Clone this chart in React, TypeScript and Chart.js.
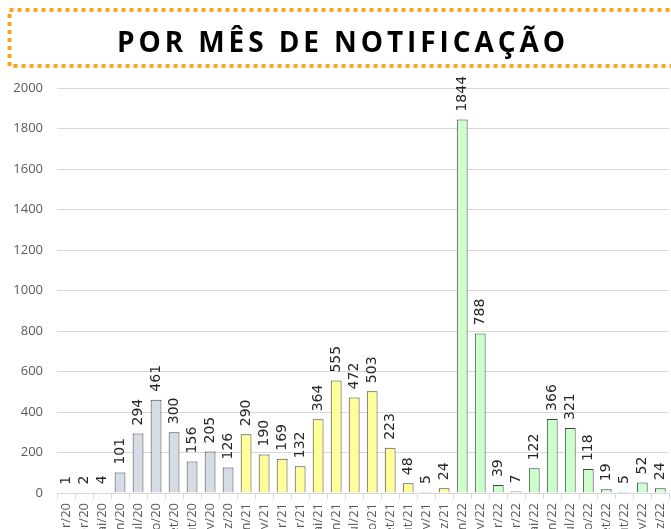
import React, { useEffect, useRef } from "react";
import { Chart, registerables } from "chart.js";

Chart.register(...registerables);

const titleText = "POR MÊS DE NOTIFICAÇÃO";

const months2020 = ["mar/20", "abr/20", "mai/20", "jun/20", "jul/20", "ago/20", "set/20", "out/20", "nov/20", "dez/20"];
const months2021 = ["jan/21", "fev/21", "mar/21", "abr/21", "mai/21", "jun/21", "jul/21", "ago/21", "set/21", "out/21", "nov/21", "dez/21"];
const months2022 = ["jan/22", "fev/22", "mar/22", "abr/22", "mai/22", "jun/22", "jul/22", "ago/22", "set/22", "out/22", "nov/22", "dez/22"];

const values2020 = [1, 2, 4, 101, 294, 461, 300, 156, 205, 126];
const values2021 = [290, 190, 169, 132, 364, 555, 472, 503, 223, 48, 5, 24];
const values2022 = [1844, 788, 39, 7, 122, 366, 321, 118, 19, 5, 52, 24];

const yMin = 0;
const yMax = 2000;
const yStep = 200;

const color2020 = "#d6dce5";
const color2021 = "#ffff99";
const color2022 = "#ccffcc";

const CANVAS_W = 680;
const CANVAS_H = 560;

export default function App() {
  const ref = useRef<HTMLCanvasElement | null>(null);

  useEffect(() => {
    if (!ref.current) return;
    const labels = [...months2020, ...months2021, ...months2022];
    const data = [...values2020, ...values2021, ...values2022];
    const colors = [
      ...values2020.map(() => color2020),
      ...values2021.map(() => color2021),
      ...values2022.map(() => color2022),
    ];

    const decorPlugin = {
      id: "decor",
      afterDraw(chart: any) {
        const ctx = chart.ctx;
        ctx.save();
        ctx.setLineDash([4, 4]);
        ctx.lineWidth = 4;
        ctx.strokeStyle = "#ffa31a";
        ctx.lineCap = "butt";
        ctx.strokeRect(9.5, 10, 720, 56);
        ctx.setLineDash([]);
        ctx.font = "bold 28px 'Open Sans', sans-serif";
        ctx.fillStyle = "#000000";
        ctx.textBaseline = "alphabetic";
        ctx.textAlign = "left";
        const chars = Array.from(titleText);
        const widths = chars.map((c) => ctx.measureText(c).width);
        const total = widths.reduce((a, b) => a + b, 0);
        const targetW = 448;
        const spacing = (targetW - total) / (chars.length - 1);
        let x = 117;
        chars.forEach((c, i) => {
          ctx.fillText(c, x, 52);
          x += widths[i] + spacing;
        });
        ctx.restore();
      },
      afterDatasetsDraw(chart: any) {
        const ctx = chart.ctx;
        const meta = chart.getDatasetMeta(0);
        const ds = chart.data.datasets[0];
        ctx.save();
        ctx.font = "14px 'DejaVu Sans', sans-serif";
        ctx.fillStyle = "#262626";
        ctx.textAlign = "left";
        ctx.textBaseline = "middle";
        meta.data.forEach((el: any, i: number) => {
          ctx.save();
          ctx.translate(el.x, el.y - 8);
          ctx.rotate(-Math.PI / 2);
          ctx.fillText(String(ds.data[i]), 0, 0);
          ctx.restore();
        });
        ctx.restore();
      },
    };

    const chart = new Chart(ref.current, {
      type: "bar",
      data: {
        labels,
        datasets: [
          {
            data,
            backgroundColor: colors,
            borderColor: "#404040",
            borderWidth: 1,
            barPercentage: 0.6,
            categoryPercentage: 1,
          },
        ],
      },
      options: {
        animation: false,
        responsive: false,
        devicePixelRatio: 1,
        layout: { padding: { top: 88, right: 6, left: 0, bottom: 0 } },
        plugins: {
          legend: { display: false },
          tooltip: { enabled: false },
          title: { display: false },
        },
        scales: {
          x: {
            grid: {
              display: true,
              drawOnChartArea: false,
              drawTicks: true,
              tickLength: 6,
              color: "#d9d9d9",
              offset: true,
            },
            border: { display: true, color: "#d9d9d9", width: 1 },
            ticks: {
              autoSkip: false,
              minRotation: 90,
              maxRotation: 90,
              padding: 4,
              color: "#595959",
              font: { family: "'Open Sans'", size: 13 },
            },
            afterFit(scale: any) {
              scale.height = CANVAS_H - 493;
            },
          },
          y: {
            min: yMin,
            max: yMax,
            ticks: {
              stepSize: yStep,
              padding: 14,
              color: "#595959",
              font: { family: "'Open Sans'", size: 13 },
              callback: (v: any) => String(v),
            },
            grid: {
              color: "#d9d9d9",
              drawTicks: false,
            },
            border: { display: false },
            afterFit(scale: any) {
              scale.width = 57;
            },
          },
        },
      },
      plugins: [decorPlugin],
    });
    return () => chart.destroy();
  }, []);

  return (
    <div
      style={{
        position: "fixed",
        left: 0,
        top: 0,
        width: 671,
        height: 529,
        overflow: "hidden",
        background: "#ffffff",
      }}
    >
      <canvas
        ref={ref}
        width={CANVAS_W}
        height={CANVAS_H}
        style={{ display: "block", width: CANVAS_W, height: CANVAS_H }}
      />
    </div>
  );
}
